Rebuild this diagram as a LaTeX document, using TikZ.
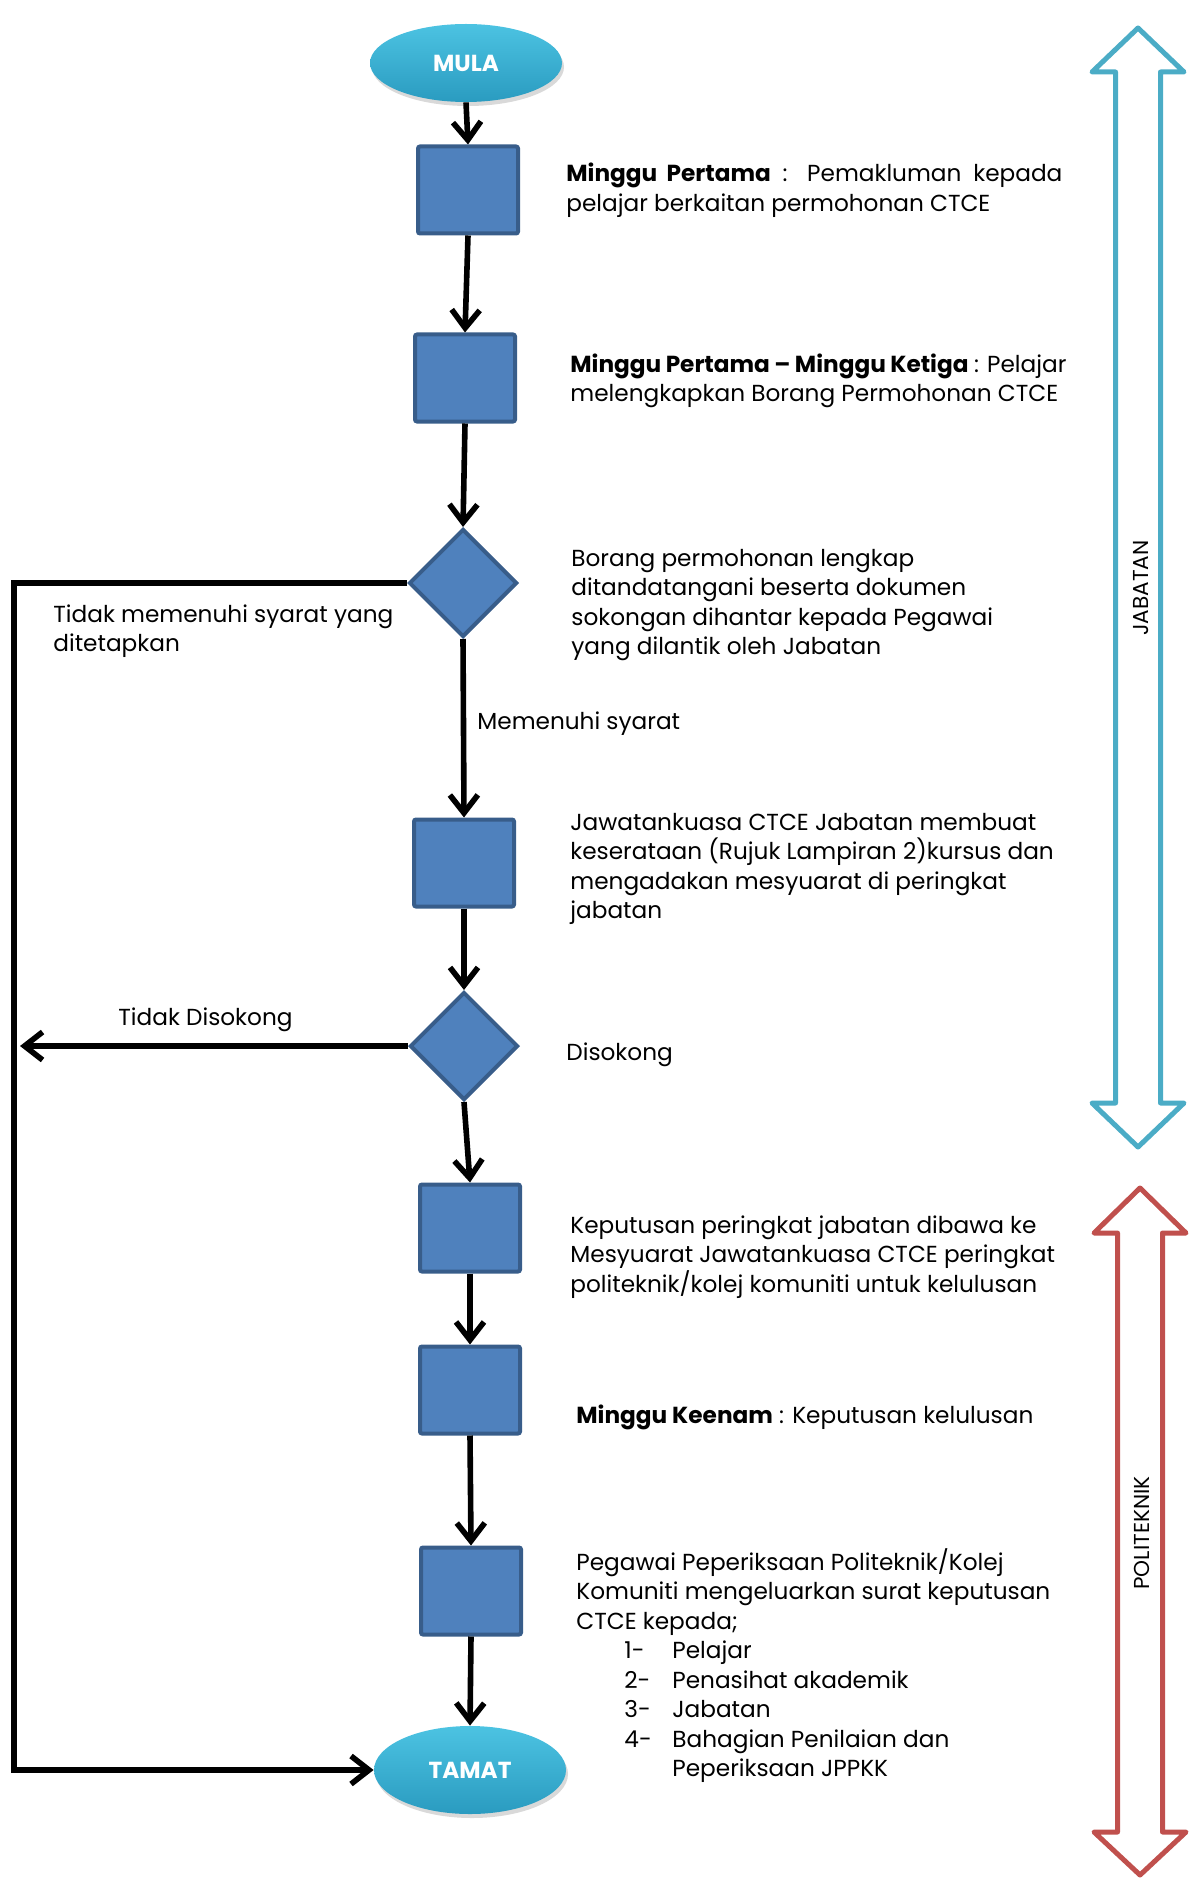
\documentclass[tikz,border=0pt]{standalone}
\usepackage{fontspec}
\setmainfont{Poppins}
\usetikzlibrary{shapes.geometric,arrows.meta,shadows}

\definecolor{boxblue}{HTML}{4F81BD}
\definecolor{boxedge}{HTML}{385D8A}
\definecolor{ovaltop}{HTML}{4CC3E2}
\definecolor{ovalbot}{HTML}{2A9BC0}
\definecolor{jabcyan}{HTML}{4BACC6}
\definecolor{polred}{HTML}{C0504D}

\tikzset{
  procbox/.style={rectangle,draw=boxedge,fill=boxblue,line width=2pt,
    minimum width=50pt,minimum height=43.5pt,rounded corners=1pt},
  decision/.style={diamond,draw=boxedge,fill=boxblue,line width=2pt,
    minimum width=54pt,minimum height=54pt,inner sep=0pt},
  terminal/.style={ellipse,top color=ovaltop,bottom color=ovalbot,text=white,
    font=\bfseries\fontsize{11.6}{13}\selectfont,inner sep=0pt,
    minimum width=96pt,minimum height=39pt,
    drop shadow={opacity=0.3,shadow xshift=1pt,shadow yshift=-2pt}},
  flow/.style={-{Straight Barb[length=9pt,width=14pt]},line width=2.8pt},
  info/.style={anchor=base west,align=left,inner sep=0pt,
    font=\fontsize{11.6}{14.75}\selectfont},
}

\begin{document}
\begin{tikzpicture}[x=5pt,y=-5pt]
    \useasboundingbox (0,0) rectangle (120.1,188.8);
      % steps
      \node[terminal] (mula) at (46.6,6.3) {MULA};
      \node[procbox] (b1) at (46.8,19.0) {};
      \node[procbox] (b2) at (46.5,37.8) {};
      \node[decision] (d1) at (46.3,58.3) {};
      \node[procbox] (b3) at (46.4,86.3) {};
      \node[decision] (d2) at (46.4,104.6) {};
      \node[procbox] (b4) at (47.0,122.8) {};
      \node[procbox] (b5) at (47.0,139.0) {};
      \node[procbox] (b6) at (47.1,159.1) {};
      \node[terminal,minimum height=44pt] (tamat) at (47.0,177.0) {TAMAT};
      \coordinate (c1) at (1.4,58.3);
      \coordinate (c3) at (2.0,104.6);
      % arrows
      \draw[flow] (mula.south) -- (b1.north);
      \draw[flow] (b1.south) -- (b2.north);
      \draw[flow] (b2.south) -- (d1.north);
      \draw[flow] (d1.south) -- (b3.north);
      \draw[flow] (b3.south) -- (d2.north);
      \draw[flow] (d2.south) -- (b4.north);
      \draw[flow] (b4.south) -- (b5.north);
      \draw[flow] (b5.south) -- (b6.north);
      \draw[flow] (b6.south) -- (tamat.north);
      \draw[flow] (d1.west) -- (c1) |- (tamat.west);
      \draw[flow] (d2.west) -- (c3);
      % labels on the arrows (placed at the baseline of the last line)
      \node[info] (lbl1) at (5.3,65.15) {Tidak memenuhi syarat yang\\ditetapkan};
      \node[info] (lbl2) at (47.7,72.9) {Memenuhi syarat};
      \node[info] (lbl3) at (11.8,102.5) {Tidak Disokong};
      \node[info] (lbl4) at (56.6,106.0) {Disokong};
      % descriptions
      \node[info] (t1) at (56.6,21.15) {\makebox[248pt][s]{\textbf{Minggu Pertama} : Pemakluman kepada}\\pelajar berkaitan permohonan CTCE};
      \node[info] (t2) at (57.0,40.15) {\makebox[248pt][s]{\textbf{Minggu Pertama -- Minggu Ketiga} : Pelajar}\\melengkapkan Borang Permohonan CTCE};
      \node[info] (t3) at (57.1,65.45) {Borang permohonan lengkap\\ditandatangani beserta dokumen\\sokongan dihantar kepada Pegawai\\yang dilantik oleh Jabatan};
      \node[info] (t4) at (57.0,91.85) {Jawatankuasa CTCE Jabatan membuat\\keserataan (Rujuk Lampiran 2)kursus dan\\mengadakan mesyuarat di peringkat\\jabatan};
      \node[info] (t5) at (57.0,129.2) {Keputusan peringkat jabatan dibawa ke\\Mesyuarat Jawatankuasa CTCE peringkat\\politeknik/kolej komuniti untuk kelulusan};
      \node[info] (t6) at (57.6,142.3) {\textbf{Minggu Keenam} : Keputusan kelulusan};
      \node[info] (t7) at (57.6,177.65) {Pegawai Peperiksaan Politeknik/Kolej\\Komuniti mengeluarkan surat keputusan\\CTCE kepada;\\
        \hspace*{24pt}\makebox[24pt][l]{1-}Pelajar\\
        \hspace*{24pt}\makebox[24pt][l]{2-}Penasihat akademik\\
        \hspace*{24pt}\makebox[24pt][l]{3-}Jabatan\\
        \hspace*{24pt}\makebox[24pt][l]{4-}Bahagian Penilaian dan\\
        \hspace*{48pt}Peperiksaan JPPKK};
      % side arrows
      \draw[jabcyan,line width=2.5pt,line join=round]
        (113.8,2.8) -- (118.4,7.2) -- (116.05,7.2) -- (116.05,110.3) -- (118.4,110.3)
        -- (113.8,114.7) -- (109.2,110.3) -- (111.55,110.3) -- (111.55,7.2) -- (109.2,7.2) -- cycle;
      \draw[polred,line width=2.5pt,line join=round]
        (114.0,118.8) -- (118.6,123.3) -- (116.25,123.3) -- (116.25,183.2) -- (118.6,183.2)
        -- (114.0,187.5) -- (109.4,183.2) -- (111.75,183.2) -- (111.75,123.3) -- (109.4,123.3) -- cycle;
      \node[rotate=90,font=\fontsize{10.8}{12}\selectfont] (jab) at (114.1,58.8) {JABATAN};
      \node[rotate=90,font=\fontsize{10.8}{12}\selectfont] (pol) at (114.2,153.3) {POLITEKNIK};
\end{tikzpicture}
\end{document}
